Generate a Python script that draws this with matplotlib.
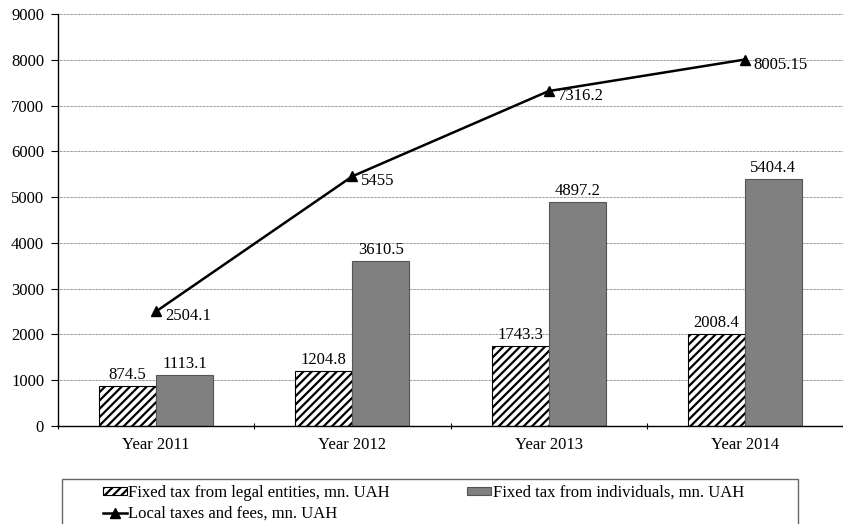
import matplotlib

matplotlib.use("Agg")
import matplotlib.pyplot as plt
import numpy as np
from matplotlib.patches import Rectangle

years = ["Year 2011", "Year 2012", "Year 2013", "Year 2014"]
legal = [874.5, 1204.8, 1743.3, 2008.4]
individuals = [1113.1, 3610.5, 4897.2, 5404.4]
local = [2504.1, 5455, 7316.2, 8005.15]
local_labels = ["2504.1", "5455", "7316.2", "8005.15"]

plt.rcParams["font.family"] = ["Liberation Serif", "DejaVu Serif"]
plt.rcParams["font.size"] = 12
plt.rcParams["hatch.linewidth"] = 1.6

fig = plt.figure(figsize=(8.43, 5.24), dpi=100)
ax = fig.add_axes([58 / 843, 1 - 426 / 524, 785 / 843, 412 / 524])

x = np.arange(len(years))
w = 0.29
b1 = ax.bar(x - w / 2, legal, w, color="white", edgecolor="black",
            hatch="////", lw=0.8, label="Fixed tax from legal entities, mn. UAH")
b2 = ax.bar(x + w / 2, individuals, w, color="#808080", edgecolor="#555555",
            lw=0.8, label="Fixed tax from individuals, mn. UAH")
ln, = ax.plot(x, local, "-^", color="black", lw=1.8, ms=7,
              label="Local taxes and fees, mn. UAH")

for xi, v in zip(x, legal):
    ax.text(xi - w / 2, v + 60, f"{v:g}", ha="center", va="bottom")
for xi, v in zip(x, individuals):
    ax.text(xi + w / 2, v + 60, f"{v:g}", ha="center", va="bottom")
for xi, v, lab in zip(x, local, local_labels):
    ax.text(xi + 0.045, v - 110, lab, ha="left", va="center")

ax.set_xlim(-0.5, len(years) - 0.5)
ax.set_ylim(0, 9000)
ax.set_yticks(range(0, 9001, 1000))
ax.set_xticks(x)
ax.set_xticklabels(years)
ax.set_xticks(np.arange(len(years) + 1) - 0.5, minor=True)
ax.tick_params(axis="x", which="major", length=0, pad=8)
ax.tick_params(axis="x", which="minor", length=5, direction="inout", width=0.8)
ax.tick_params(axis="y", length=5, width=0.8, pad=5)
ax.yaxis.grid(True, ls=(0, (1, 1)), lw=0.5, color="#333333")
ax.set_axisbelow(True)
for s in ("top", "right"):
    ax.spines[s].set_visible(False)
for s in ("left", "bottom"):
    ax.spines[s].set_linewidth(1.0)

# legend frame runs off the bottom of the picture, as in the original
fig.patches.append(Rectangle((62 / 843, -0.05), 736 / 843, 0.05 + 45 / 524,
                             transform=fig.transFigure, fill=False,
                             edgecolor="#666666", lw=1.0))
fig.legend([b1, ln, b2], [b1.get_label(), ln.get_label(), b2.get_label()],
           ncol=2, frameon=False, loc="upper left",
           bbox_to_anchor=(96 / 843, 1 - 478 / 524),
           handlelength=1.45, handleheight=0.35, handletextpad=0.1,
           columnspacing=4.6, labelspacing=0.3, borderaxespad=0)

fig.savefig("out.png", dpi=100)
